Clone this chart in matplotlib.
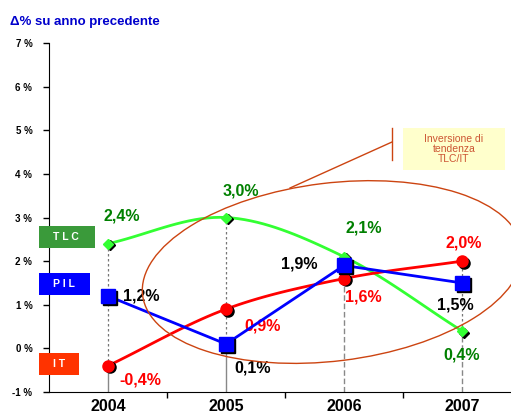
import matplotlib.pyplot as plt
import numpy as np
from matplotlib.patches import Ellipse
from matplotlib.transforms import IdentityTransform, offset_copy

plt.rcParams['font.family'] = ['Liberation Sans', 'DejaVu Sans']

# dati
anni = ['2004', '2005', '2006', '2007']
tlc = [2.4, 3.0, 2.1, 0.4]
pil = [1.2, 0.1, 1.9, 1.5]
it = [-0.4, 0.9, 1.6, 2.0]

tlc_lbl = ['2,4%', '3,0%', '2,1%', '0,4%']
pil_lbl = ['1,2%', '0,1%', '1,9%', '1,5%']
it_lbl = ['-0,4%', '0,9%', '1,6%', '2,0%']

x = np.arange(len(anni))


def smooth(xs, ys, n=20):
    # curva tipo Catmull-Rom (linea smussata come in Excel)
    xs = np.asarray(xs, float)
    ys = np.asarray(ys, float)
    px = np.concatenate([[2 * xs[0] - xs[1]], xs, [2 * xs[-1] - xs[-2]]])
    py = np.concatenate([[2 * ys[0] - ys[1]], ys, [2 * ys[-1] - ys[-2]]])
    ox, oy = [], []
    for i in range(1, len(px) - 2):
        t = np.linspace(0, 1, n)
        for p, o in ((px, ox), (py, oy)):
            p0, p1, p2, p3 = p[i - 1], p[i], p[i + 1], p[i + 2]
            o.extend(0.5 * (2 * p1 + (-p0 + p2) * t + (2 * p0 - 5 * p1 + 4 * p2 - p3) * t ** 2
                            + (-p0 + 3 * p1 - 3 * p2 + p3) * t ** 3))
    return ox, oy


fig = plt.figure(figsize=(5.11, 4.16), dpi=100)
ax = fig.add_axes([49 / 511, 24 / 416, 472 / 511, 349 / 416])
ax.set_xlim(-0.5, 3.5)
ax.set_ylim(-1, 7)

# linee di riferimento verticali
for i in range(len(x)):
    top = max(tlc[i], pil[i], it[i])
    low = min(tlc[i], pil[i], it[i])
    ax.plot([x[i], x[i]], [low, top], color='#777777', lw=0.9, ls=(0, (2, 2)), zorder=1)
    ax.plot([x[i], x[i]], [-1, low], color='#888888', lw=1.0,
            ls='-' if i < 2 else (0, (4, 2)), zorder=1)

# ombre dei marker
sh = offset_copy(ax.transData, fig=fig, x=1.2, y=-1.2, units='points')

xs, ys = smooth(x, tlc)
ax.plot(xs, ys, color='#33ff33', lw=2, zorder=3)
ax.plot(x, tlc, 'D', color='black', ms=5, transform=sh, zorder=3)
ax.plot(x, tlc, 'D', color='#33ff33', ms=5, zorder=4)

xs, ys = smooth(x, it)
ax.plot(xs, ys, color='#ff0000', lw=2, zorder=3)
ax.plot(x, it, 'o', color='black', ms=8, transform=sh, zorder=3)
ax.plot(x, it, 'o', color='#ff0000', ms=8, zorder=4)

ax.plot(x, pil, color='#0000ff', lw=2, zorder=5)
ax.plot(x, pil, 's', color='black', ms=10, transform=sh, zorder=5)
ax.plot(x, pil, 's', color='#0000ff', ms=10, zorder=6)

# etichette dei valori
fk = dict(textcoords='offset points', ha='center', va='center', fontsize=11.5, fontweight='bold')
tlc_off = [(10, 20), (11, 19), (14, 21), (0, -17)]
pil_off = [(24, 0), (19, -17), (-32, 1), (-5, -16)]
it_off = [(23, -10), (26, -12), (14, -13), (1, 13)]
for i in range(len(x)):
    ax.annotate(tlc_lbl[i], (x[i], tlc[i]), xytext=tlc_off[i], color='#008000', **fk)
    ax.annotate(pil_lbl[i], (x[i], pil[i]), xytext=pil_off[i], color='black', **fk)
    ax.annotate(it_lbl[i], (x[i], it[i]), xytext=it_off[i], color='#ff0000', **fk)

# ellisse
cx, cy = ax.transData.transform((1.9, 1.75))
ax.add_patch(Ellipse((cx, cy), 382, 178, angle=7, transform=IdentityTransform(),
                     fill=False, ec='#cc4411', lw=1.0, zorder=7, clip_on=False))
ax.plot([290 / 511, 392 / 511], [1 - 188 / 416, 1 - 142 / 416], color='#cc4411', lw=1,
        transform=fig.transFigure, clip_on=False)
ax.plot([392 / 511, 392 / 511], [1 - 128 / 416, 1 - 160 / 416], color='#cc4411', lw=1,
        transform=fig.transFigure, clip_on=False)
fig.patches.append(plt.Rectangle((403 / 511, 1 - 170 / 416), 102 / 511, 42 / 416,
                                 transform=fig.transFigure, fc='#ffffcc', ec='none'))
fig.text(454 / 511, 1 - 149 / 416, 'Inversione di\ntendenza\nTLC/IT', ha='center', va='center',
         color='#cc5533', fontsize=7.5, linespacing=1.05)

# legenda a riquadri
for lab, col, yy, w in [('TLC', '#3a9a3a', 237, 56), ('PIL', '#0000ff', 284, 51), ('IT', '#ff3300', 364, 40)]:
    fig.patches.append(plt.Rectangle((39 / 511, 1 - (yy + 11) / 416), w / 511, 22 / 416,
                                     transform=fig.transFigure, fc=col, ec='none', zorder=8))
    fig.text(53 / 511, 1 - yy / 416, ' '.join(lab), color='white', fontsize=7.5,
             fontweight='bold', va='center', ha='left', zorder=9)

# assi
ax.set_yticks(range(-1, 8))
ax.set_yticklabels([f'{v} %' for v in range(-1, 8)], fontsize=7, fontweight='bold')
ax.set_xticks(x + 0.5)
ax.set_xticklabels([])
for i, a in enumerate(anni):
    ax.text(x[i], -1.33, a, ha='center', va='center', fontsize=11.5, fontweight='bold')
ax.tick_params(axis='both', direction='out', length=4, width=1)
ax.tick_params(axis='y', pad=8)
for s in ['top', 'right']:
    ax.spines[s].set_visible(False)

fig.text(10 / 511, 1 - 22 / 416, 'Δ% su anno precedente', color='#0000cc', fontsize=9.5,
         fontweight='bold', va='center')

fig.savefig('out.png', dpi=100)
